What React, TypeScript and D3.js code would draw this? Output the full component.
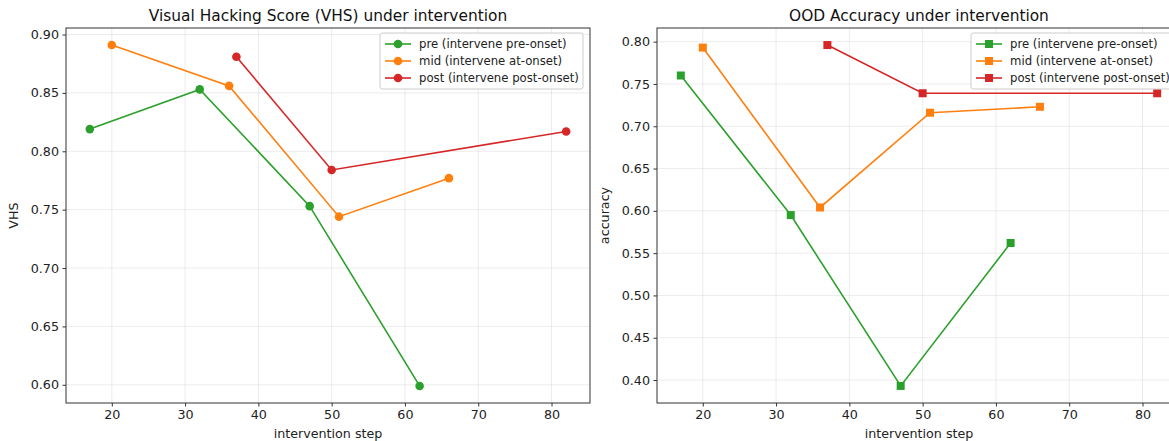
import React, { useRef, useEffect } from 'react';
import * as d3 from 'd3';

const steps = {
  pre: [17, 32, 47, 62],
  mid: [20, 36, 51, 66],
  post: [37, 50, 82],
};

const vhsPre = [0.819, 0.853, 0.753, 0.599];
const vhsMid = [0.891, 0.856, 0.744, 0.777];
const vhsPost = [0.881, 0.784, 0.817];

const accPre = [0.76, 0.595, 0.393, 0.562];
const accMid = [0.793, 0.604, 0.716, 0.723];
const accPost = [0.796, 0.739, 0.739];

const seriesNames = ['pre (intervene pre-onset)', 'mid (intervene at-onset)', 'post (intervene post-onset)'];
const colors = ['#2ca02c', '#ff7f0e', '#d62728'];
const xTicks = [20, 30, 40, 50, 60, 70, 80];
const vhsTicks = [0.6, 0.65, 0.7, 0.75, 0.8, 0.85, 0.9];
const accTicks = [0.4, 0.45, 0.5, 0.55, 0.6, 0.65, 0.7, 0.75, 0.8];

const FONT = 'DejaVu Sans, sans-serif';

const drawPanel = (root, opts) => {
  const { left, right, top, bottom, title, ylabel, series, yTicks, marker, legendX } = opts;
  const allX = series.flatMap((s) => s.x);
  const allY = series.flatMap((s) => s.y);
  const xmin = d3.min(allX), xmax = d3.max(allX);
  const ymin = d3.min(allY), ymax = d3.max(allY);
  const xm = (xmax - xmin) * 0.05, ym = (ymax - ymin) * 0.05;
  const x = d3.scaleLinear().domain([xmin - xm, xmax + xm]).range([left, right]);
  const y = d3.scaleLinear().domain([ymin - ym, ymax + ym]).range([bottom, top]);

  const g = root.append('g');

  // grid
  g.selectAll('.vg').data(xTicks).enter().append('line')
    .attr('x1', (d) => x(d)).attr('x2', (d) => x(d))
    .attr('y1', top).attr('y2', bottom)
    .attr('stroke', '#b0b0b0').attr('stroke-opacity', 0.3).attr('stroke-width', 0.8);
  g.selectAll('.hg').data(yTicks).enter().append('line')
    .attr('x1', left).attr('x2', right)
    .attr('y1', (d) => y(d)).attr('y2', (d) => y(d))
    .attr('stroke', '#b0b0b0').attr('stroke-opacity', 0.3).attr('stroke-width', 0.8);

  // lines + markers
  series.forEach((s, i) => {
    const pts = s.x.map((v, j) => [v, s.y[j]]);
    g.append('path')
      .datum(pts)
      .attr('fill', 'none')
      .attr('stroke', colors[i])
      .attr('stroke-width', 1.6)
      .attr('d', d3.line().x((d) => x(d[0])).y((d) => y(d[1])));
    if (marker === 'circle') {
      g.selectAll(null).data(pts).enter().append('circle')
        .attr('cx', (d) => x(d[0])).attr('cy', (d) => y(d[1]))
        .attr('r', 4.3).attr('fill', colors[i]);
    } else {
      g.selectAll(null).data(pts).enter().append('rect')
        .attr('x', (d) => x(d[0]) - 4).attr('y', (d) => y(d[1]) - 4)
        .attr('width', 8).attr('height', 8).attr('fill', colors[i]);
    }
  });

  // frame
  g.append('rect')
    .attr('x', left).attr('y', top)
    .attr('width', right - left).attr('height', bottom - top)
    .attr('fill', 'none').attr('stroke', '#333').attr('stroke-width', 1);

  // axes
  const xAxis = d3.axisBottom(x).tickValues(xTicks).tickSize(3.5).tickPadding(3.5).tickFormat(d3.format('d'));
  const xg = g.append('g').attr('transform', `translate(0,${bottom})`).call(xAxis);
  const yAxis = d3.axisLeft(y).tickValues(yTicks).tickSize(3.5).tickPadding(3.5).tickFormat(d3.format('.2f'));
  const yg = g.append('g').attr('transform', `translate(${left},0)`).call(yAxis);
  [xg, yg].forEach((a) => {
    a.select('.domain').remove();
    a.selectAll('line').attr('stroke', '#333');
    a.selectAll('text').attr('font-family', FONT).attr('font-size', '12.7px').attr('fill', '#222');
  });

  g.append('text')
    .attr('x', (left + right) / 2).attr('y', 21)
    .attr('text-anchor', 'middle')
    .attr('font-family', FONT).attr('font-size', '15.4px').attr('fill', '#111')
    .text(title);
  g.append('text')
    .attr('x', (left + right) / 2).attr('y', 438)
    .attr('text-anchor', 'middle')
    .attr('font-family', FONT).attr('font-size', '12.7px').attr('fill', '#222')
    .text('intervention step');
  g.append('text')
    .attr('transform', `translate(${left - 48},${(top + bottom) / 2}) rotate(-90)`)
    .attr('text-anchor', 'middle')
    .attr('font-family', FONT).attr('font-size', '12.7px').attr('fill', '#222')
    .text(ylabel);

  // legend
  const lg = g.append('g').attr('transform', `translate(${legendX},33)`);
  lg.append('rect')
    .attr('width', 203).attr('height', 56).attr('rx', 2.5)
    .attr('fill', 'white').attr('fill-opacity', 0.85)
    .attr('stroke', '#ccc').attr('stroke-width', 1);
  seriesNames.forEach((name, i) => {
    const yy = 11 + i * 17;
    lg.append('line').attr('x1', 5).attr('x2', 31).attr('y1', yy).attr('y2', yy)
      .attr('stroke', colors[i]).attr('stroke-width', 1.6);
    if (marker === 'circle') {
      lg.append('circle').attr('cx', 18).attr('cy', yy).attr('r', 4.3).attr('fill', colors[i]);
    } else {
      lg.append('rect').attr('x', 14).attr('y', yy - 4).attr('width', 8).attr('height', 8).attr('fill', colors[i]);
    }
    lg.append('text').attr('x', 39).attr('y', yy + 4)
      .attr('font-family', FONT).attr('font-size', '11.7px').attr('fill', '#222')
      .text(name);
  });
};

const App = () => {
  const ref = useRef(null);

  useEffect(() => {
    const svg = d3.select(ref.current);
    svg.selectAll('*').remove();
    svg.append('rect').attr('width', 1169).attr('height', 441).attr('fill', 'white');

    drawPanel(svg, {
      left: 66, right: 590, top: 28, bottom: 403,
      title: 'Visual Hacking Score (VHS) under intervention',
      ylabel: 'VHS',
      series: [
        { x: steps.pre, y: vhsPre },
        { x: steps.mid, y: vhsMid },
        { x: steps.post, y: vhsPost },
      ],
      yTicks: vhsTicks,
      marker: 'circle',
      legendX: 380,
    });

    drawPanel(svg, {
      left: 657, right: 1181, top: 28, bottom: 403,
      title: 'OOD Accuracy under intervention',
      ylabel: 'accuracy',
      series: [
        { x: steps.pre, y: accPre },
        { x: steps.mid, y: accMid },
        { x: steps.post, y: accPost },
      ],
      yTicks: accTicks,
      marker: 'square',
      legendX: 971,
    });
  }, []);

  return (
    <svg
      ref={ref}
      width={1169}
      height={441}
      style={{ position: 'absolute', left: 0, top: 0, display: 'block' }}
    />
  );
};

export default App;
